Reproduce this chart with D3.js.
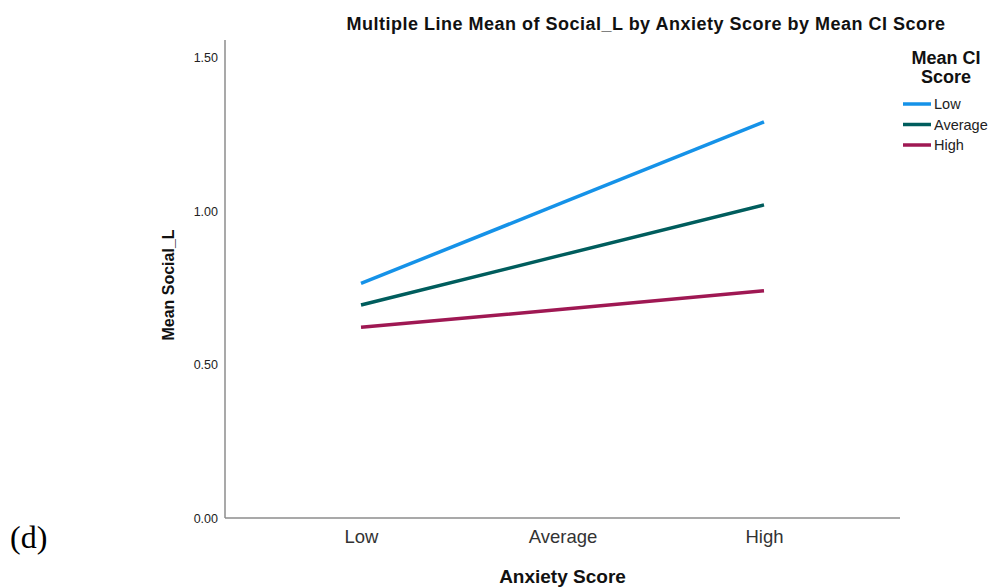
<!DOCTYPE html>
<html>
<head>
<meta charset="utf-8">
<script src="https://cdn.jsdelivr.net/npm/d3@7"></script>
<style>
  html, body { margin: 0; padding: 0; background: #fff; }
  svg { display: block; font-family: "Liberation Sans", Arial, sans-serif; }
</style>
</head>
<body>
<svg id="chart" width="991" height="588"></svg>
<script>
// Anxiety score groups along the x axis
const anxietyLevels = ["Low", "Average", "High"];
// Mean CI score groups (one line each)
const ciGroups = ["Low", "Average", "High"];
// Mean Social_L per anxiety level, for each CI group
const lowCI = [0.764, 1.027, 1.290];
const averageCI = [0.694, 0.857, 1.020];
const highCI = [0.621, 0.680, 0.740];
const yTicks = [0, 0.5, 1.0, 1.5];
const lineColors = ["#1592e8", "#005d5d", "#9f1853"];

const series = [lowCI, averageCI, highCI].map((vals, i) => ({
  name: ciGroups[i],
  color: lineColors[i],
  points: vals.map((v, j) => ({ level: anxietyLevels[j], value: v }))
}));

const svg = d3.select("#chart");
const plot = { left: 225, right: 900, top: 40, bottom: 518 };

const x = d3.scalePoint()
  .domain(anxietyLevels)
  .range([plot.left, plot.right])
  .padding(0.675);

const y = d3.scaleLinear()
  .domain([0, 1.5])
  .range([plot.bottom, 57.5]);

// Axis frame lines
svg.append("line")
  .attr("x1", plot.left).attr("x2", plot.left)
  .attr("y1", plot.top).attr("y2", plot.bottom)
  .attr("stroke", "#8c8c8c").attr("stroke-width", 1.5);
svg.append("line")
  .attr("x1", plot.left).attr("x2", plot.right)
  .attr("y1", plot.bottom).attr("y2", plot.bottom)
  .attr("stroke", "#8c8c8c").attr("stroke-width", 1.5);

// Y axis tick labels
const yAxis = d3.axisLeft(y).tickValues(yTicks).tickFormat(d3.format(".2f")).tickSize(0).tickPadding(7);
const yg = svg.append("g").attr("transform", `translate(${plot.left},0)`).call(yAxis);
yg.select(".domain").remove();
yg.selectAll("text").attr("font-size", 12.5).attr("fill", "#222")
  .attr("font-family", "'Liberation Sans', Arial, sans-serif");

// X axis category labels
const xAxis = d3.axisBottom(x).tickSize(0).tickPadding(12);
const xg = svg.append("g").attr("transform", `translate(0,${plot.bottom})`).call(xAxis);
xg.select(".domain").remove();
xg.selectAll("text").attr("font-size", 18.5).attr("fill", "#333")
  .attr("font-family", "'Liberation Sans', Arial, sans-serif");

// Series lines
const line = d3.line().x(d => x(d.level)).y(d => y(d.value));
svg.append("g").selectAll("path")
  .data(series)
  .join("path")
  .attr("d", d => line(d.points))
  .attr("fill", "none")
  .attr("stroke", d => d.color)
  .attr("stroke-width", 3.5);

// Title
svg.append("text")
  .attr("x", 646).attr("y", 30)
  .attr("text-anchor", "middle")
  .attr("font-size", 18).attr("letter-spacing", 0.5)
  .attr("font-weight", "bold").attr("fill", "#111")
  .text("Multiple Line Mean of Social_L by Anxiety Score by Mean CI Score");

// Axis titles
svg.append("text")
  .attr("x", (plot.left + plot.right) / 2).attr("y", 583)
  .attr("text-anchor", "middle")
  .attr("font-size", 19).attr("font-weight", "bold").attr("fill", "#111")
  .text("Anxiety Score");

svg.append("text")
  .attr("transform", `translate(174,285) rotate(-90)`)
  .attr("text-anchor", "middle")
  .attr("font-size", 16).attr("font-weight", "bold").attr("fill", "#111")
  .text("Mean Social_L");

// Legend
const legend = svg.append("g");
legend.append("text")
  .attr("x", 946).attr("y", 64)
  .attr("text-anchor", "middle")
  .attr("font-size", 18).attr("font-weight", "bold").attr("fill", "#111")
  .selectAll("tspan")
  .data(["Mean CI", "Score"])
  .join("tspan")
  .attr("x", 946)
  .attr("dy", (d, i) => i === 0 ? 0 : 19)
  .text(d => d);

const item = legend.selectAll("g.item")
  .data(series)
  .join("g")
  .attr("class", "item")
  .attr("transform", (d, i) => `translate(0,${104 + i * 20.5})`);
item.append("line")
  .attr("x1", 903).attr("x2", 931)
  .attr("stroke", d => d.color).attr("stroke-width", 3.5);
item.append("text")
  .attr("x", 934).attr("y", 5)
  .attr("font-size", 14.5).attr("fill", "#222")
  .text(d => d.name);

// Panel letter
svg.append("text")
  .attr("x", 10).attr("y", 548)
  .attr("font-family", "'Liberation Serif', 'Times New Roman', serif")
  .attr("font-size", 32).attr("fill", "#000")
  .text("(d)");
</script>
</body>
</html>
